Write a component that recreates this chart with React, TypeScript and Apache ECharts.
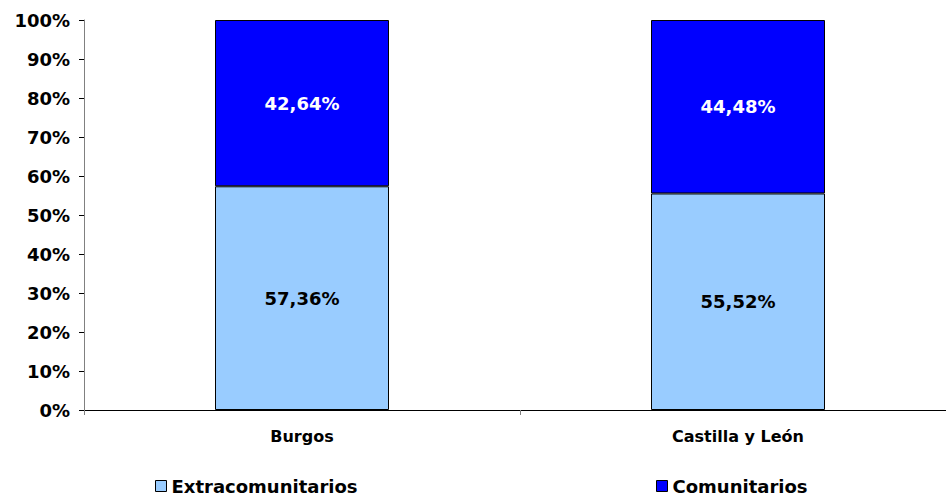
import React, { useEffect, useRef } from "react";
import * as echarts from "echarts";

const categories = ["Burgos", "Castilla y León"];
const extracomunitarios = [57.36, 55.52];
const comunitarios = [42.64, 44.48];
const seriesNames = ["Extracomunitarios", "Comunitarios"];

const FONT = "'DejaVu Sans', Verdana, sans-serif";

const fmt = (v: number) => v.toFixed(2).replace(".", ",") + "%";

export default function App() {
  const ref = useRef<HTMLDivElement>(null);
  useEffect(() => {
    document.body.style.margin = "0";
    const chart = echarts.init(ref.current!, null, { renderer: "svg" });
    const legendText = { fontFamily: FONT, fontWeight: "bold" as const, fontSize: 18, color: "#000" };
    chart.setOption({
      animation: false,
      backgroundColor: "#fff",
      grid: { left: 84, top: 20, width: 872, height: 390, containLabel: false },
      legend: [
        {
          data: [seriesNames[0]],
          left: 150,
          top: 472,
          itemWidth: 11,
          itemHeight: 11,
          icon: "rect",
          textStyle: legendText,
          itemStyle: { borderColor: "#000", borderWidth: 1 },
        },
        {
          data: [seriesNames[1]],
          left: 651,
          top: 472,
          itemWidth: 11,
          itemHeight: 11,
          icon: "rect",
          textStyle: legendText,
          itemStyle: { borderColor: "#000", borderWidth: 1 },
        },
      ],
      xAxis: {
        type: "category",
        data: categories,
        axisLine: { lineStyle: { color: "#000", width: 1 } },
        axisTick: { show: true, length: 5, lineStyle: { color: "#808080" } },
        axisLabel: {
          fontFamily: FONT,
          fontWeight: "bold",
          fontSize: 16,
          color: "#000",
          margin: 18,
        },
      },
      yAxis: {
        type: "value",
        min: 0,
        max: 100,
        interval: 10,
        axisLine: { show: true, lineStyle: { color: "#808080", width: 1 } },
        axisTick: { show: true, length: 5, lineStyle: { color: "#000" } },
        splitLine: { show: false },
        axisLabel: {
          formatter: "{value}%",
          fontFamily: FONT,
          fontWeight: "bold",
          fontSize: 18,
          color: "#000",
          margin: 14,
        },
      },
      series: [
        {
          name: seriesNames[0],
          type: "bar",
          stack: "total",
          data: extracomunitarios,
          barWidth: 174,
          itemStyle: { color: "#99CCFF", borderColor: "#000", borderWidth: 1 },
          label: {
            show: true,
            position: "inside",
            formatter: (p: any) => fmt(p.value),
            fontFamily: FONT,
            fontWeight: "bold",
            fontSize: 18,
            color: "#000",
          },
        },
        {
          name: seriesNames[1],
          type: "bar",
          stack: "total",
          data: comunitarios,
          barWidth: 174,
          itemStyle: { color: "#0000FF", borderColor: "#000", borderWidth: 1 },
          label: {
            show: true,
            position: "inside",
            formatter: (p: any) => fmt(p.value),
            fontFamily: FONT,
            fontWeight: "bold",
            fontSize: 18,
            color: "#fff",
          },
        },
      ],
    });
    return () => chart.dispose();
  }, []);
  return (
    <div style={{ width: 946, height: 496, overflow: "hidden", position: "relative" }}>
      <div ref={ref} style={{ width: 966, height: 496 }} />
    </div>
  );
}
